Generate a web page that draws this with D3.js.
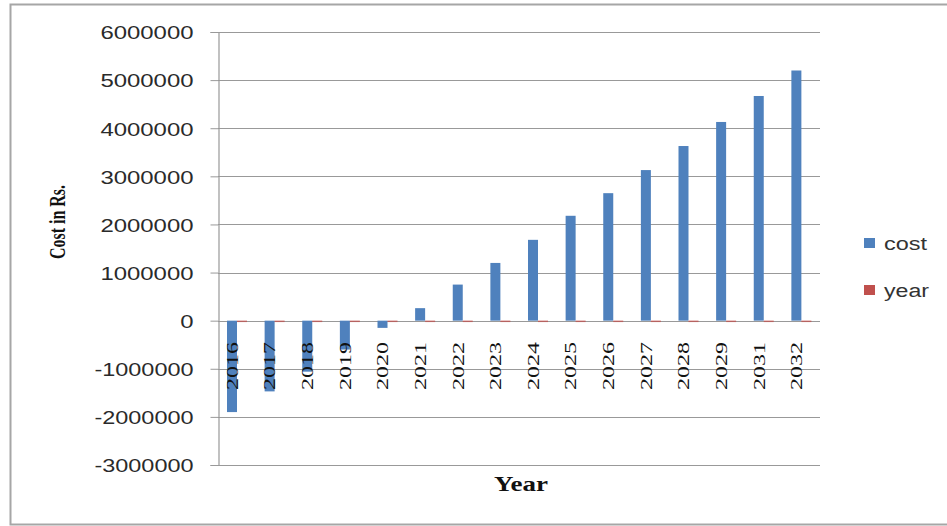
<!DOCTYPE html>
<html><head><meta charset="utf-8">
<script src="https://cdn.jsdelivr.net/npm/d3@7"></script>
<style>body{margin:0;background:#fff}svg{display:block}</style>
</head><body>
<svg id="c" width="947" height="526"></svg>
<script>
const categories = ["2016","2017","2018","2019","2020","2021","2022","2023","2024","2025","2026","2027","2028","2029","2031","2032"];
const cost = [-1900000,-1470000,-1060000,-600000,-150000,260000,750000,1200000,1680000,2180000,2650000,3130000,3630000,4130000,4670000,5200000];
const year = [2016,2017,2018,2019,2020,2021,2022,2023,2024,2025,2026,2027,2028,2029,2031,2032];
const yTicks = [-3000000,-2000000,-1000000,0,1000000,2000000,3000000,4000000,5000000,6000000];
const seriesNames = ["cost","year"];
const colors = ["#4F81BD","#C0504D"];

const svg = d3.select("#c");
svg.append("rect").attr("x",10.5).attr("y",4.5).attr("width",945).attr("height",520)
  .attr("fill","#fff").attr("stroke","#a6a6a6").attr("stroke-width",2);

const L=218, R=820, T=32, B=465;
const y = d3.scaleLinear().domain([-3000000,6000000]).range([B,T]);
const x = d3.scaleBand().domain(categories).range([L,R]);

// gridlines
svg.append("g").selectAll("line").data(yTicks).join("line")
  .attr("x1",L).attr("x2",R).attr("y1",d=>Math.round(y(d))+0.5).attr("y2",d=>Math.round(y(d))+0.5)
  .attr("stroke","#999").attr("stroke-width",1.2);

// y axis
const fmt = d=>d3.format("d")(d).replace("\u2212","-");
const ya = svg.append("g").attr("transform",`translate(${L+0.5},0)`)
  .call(d3.axisLeft(y).tickValues(yTicks).tickFormat(fmt).tickSize(8).tickPadding(17));
ya.select(".domain").attr("stroke","#999").attr("stroke-width",1.2);
ya.selectAll(".tick line").attr("stroke","#999");
ya.selectAll("text").attr("font-family","'Liberation Sans', sans-serif").attr("font-size",19).attr("fill","#2a2a2a")
  .attr("dy","0.36em")
  .attr("textLength",d=>{const s=fmt(d); return s.replace("-","").length*13.3 + (s.startsWith("-")?6:0);})
  .attr("lengthAdjust","spacingAndGlyphs");

// bars
const g = svg.append("g");
g.selectAll("rect.cost").data(categories).join("rect").attr("class","cost")
  .attr("x",(d)=>x(d)+9).attr("width",10)
  .attr("y",(d,i)=>Math.min(y(cost[i]),y(0))).attr("height",(d,i)=>Math.abs(y(cost[i])-y(0)))
  .attr("fill",colors[0]);
g.selectAll("rect.year").data(categories).join("rect").attr("class","year")
  .attr("x",(d)=>x(d)+19).attr("width",10)
  .attr("y",(d,i)=>Math.min(y(year[i]),y(0))).attr("height",(d,i)=>Math.max(1.5,Math.abs(y(year[i])-y(0))))
  .attr("fill",colors[1]).attr("opacity",0.75);

// x labels
svg.append("g").selectAll("text").data(categories).join("text")
  .attr("transform",d=>`translate(${x(d)+x.bandwidth()/2+1},342) rotate(-90)`)
  .attr("text-anchor","end").attr("font-family","'Liberation Serif', serif").attr("font-size",16)
  .attr("textLength",48).attr("lengthAdjust","spacingAndGlyphs")
  .attr("fill","#111").text(d=>d);

// titles
svg.append("text").attr("x",521).attr("y",491).attr("text-anchor","middle")
  .attr("font-family","'Liberation Serif', serif").attr("font-weight","bold").attr("font-size",21)
  .attr("textLength",54).attr("lengthAdjust","spacingAndGlyphs").attr("fill","#111").text("Year");
svg.append("text").attr("transform","translate(65,222) scale(1.25,1) rotate(-90)").attr("text-anchor","middle")
  .attr("font-family","'Liberation Serif', serif").attr("font-weight","bold").attr("font-size",18)
  .attr("textLength",74).attr("lengthAdjust","spacingAndGlyphs").attr("fill","#111").text("Cost in Rs.");

// legend
const lg = svg.append("g");
seriesNames.forEach((n,i)=>{
  const yy = 243 + i*47;
  lg.append("rect").attr("x",864).attr("y",yy-5).attr("width",11).attr("height",10).attr("fill",colors[i]);
  lg.append("text").attr("x",884).attr("y",yy+7).attr("font-family","'Liberation Sans', sans-serif")
    .attr("font-size",18).attr("fill","#333").attr("textLength",n==="cost"?43:45).attr("lengthAdjust","spacingAndGlyphs").text(n);
});
</script>
</body></html>
